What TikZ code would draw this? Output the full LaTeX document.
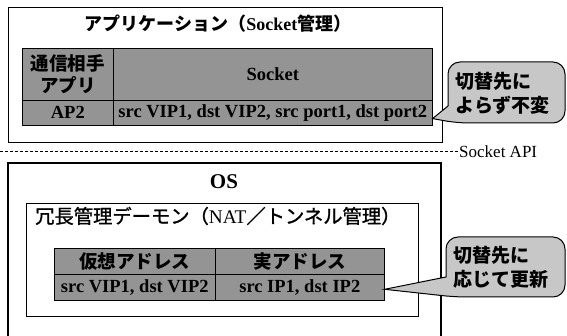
\documentclass[tikz,border=0pt]{standalone}
\usepackage{fontspec}
\setmainfont{Liberation Serif}
\newfontfamily\jp{Noto Sans CJK JP}
\newfontfamily\jpm[FakeBold=1.2]{Noto Sans CJK JP}
\newcommand{\J}[1]{{\jp #1}}
\usetikzlibrary{calc}
\tikzset{
  box/.style={draw, line width=1.1pt, inner sep=0pt, anchor=north west},
  cell/.style={draw, line width=0.6pt, fill=black!42, inner sep=0pt, anchor=north west, align=center, font=\bfseries\fontsize{18.5}{20}\selectfont},
  callout/.style={draw, line width=1pt, fill=black!22},
  callouttext/.style={anchor=west, align=left, inner sep=0pt, font=\jp\bfseries\fontsize{19}{24}\selectfont},
}
\begin{document}
\begin{tikzpicture}[x=1pt,y=-1pt]
\useasboundingbox (0,0) rectangle (567,336);
% application box
\node[box, minimum width=434pt, minimum height=135pt] (app) at (8,7) {};
\node[font=\bfseries\fontsize{18}{20}\selectfont] (apptitle) at (218,24) {\J{アプリケーション（}Socket\J{管理）}};
\node[cell, minimum width=91pt, minimum height=52pt] (peer) at (22,48) {\J{通信相手}\\[2pt]\J{アプリ}};
\node[cell, minimum width=319pt, minimum height=52pt] (sock) at (113,48) {Socket};
\node[cell, minimum width=91pt, minimum height=25pt] (ap2) at (22,100) {AP2};
\node[cell, minimum width=319pt, minimum height=25pt] (sockval) at (113,100) {src VIP1, dst VIP2, src port1, dst port2};
% callout 1
\coordinate (tip1) at ($(sockval.south east)+(0,-7)$);
\draw[callout] (tip1) -- (448,106) [rounded corners=12pt] -- (448,62) -- (565,62) -- (565,123) -- (457,123) [sharp corners] -- cycle;
\node[callouttext] (c1) at (455,93) {切替先に\\よらず不変};
% Socket API line
\node[anchor=west, inner sep=0pt, font=\fontsize{17}{19}\selectfont] (api) at (459,152) {Socket API};
\coordinate (dl) at (0,151);
\draw[dashed, dash pattern=on 3pt off 2pt, line width=0.7pt] (dl) -- (dl -| api.west) -- ++(-3,0);
% OS box (open at the bottom)
\coordinate (osbl) at (8,338);
\coordinate (osbr) at (441,338);
\draw[line width=1.1pt] (osbl) -- (8,163) -- (441,163) -- (osbr);
\node[font=\bfseries\fontsize{21}{22}\selectfont] (os) at (224,182) {OS};
% daemon box
\node[box, minimum width=392pt, minimum height=113pt] (daemon) at (26,203) {};
\node[anchor=west, inner sep=0pt, font=\fontsize{19.3}{20}\selectfont] (dtitle) at (35,216) {{\jpm 冗長管理デーモン（}NAT{\jpm ／トンネル管理）}};
\node[cell, minimum width=161pt, minimum height=26pt] (virt) at (54,248) {\J{仮想アドレス}};
\node[cell, minimum width=169pt, minimum height=26pt] (real) at (215,248) {\J{実アドレス}};
\node[cell, minimum width=161pt, minimum height=26pt] (virtval) at (54,274) {src VIP1, dst VIP2};
\node[cell, minimum width=169pt, minimum height=26pt] (realval) at (215,274) {src IP1, dst IP2};
% callout 2
\coordinate (tip2) at ($(realval.east)+(0,2)$);
\draw[callout] (tip2) -- (446,277) [rounded corners=12pt] -- (446,237) -- (565,237) -- (565,297) -- (455,297) [sharp corners] -- cycle;
\node[callouttext] (c2) at (453,267) {切替先に\\応じて更新};
\end{tikzpicture}
\end{document}
